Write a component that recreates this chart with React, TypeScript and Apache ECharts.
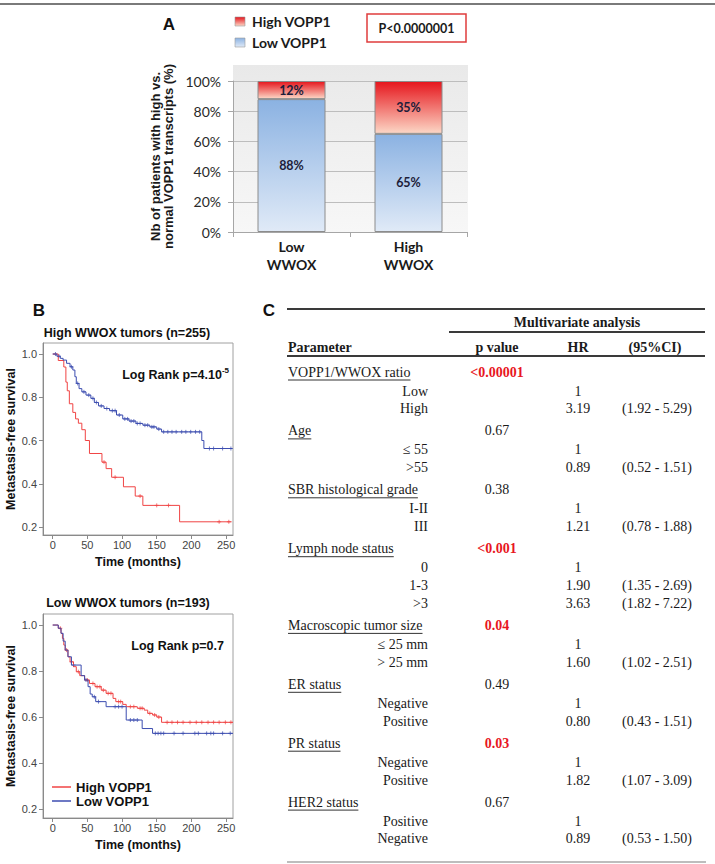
import React, { useEffect, useRef } from 'react';
import * as echarts from 'echarts';

// ---------- Panel A data ----------
const barCategories = ['Low\nWWOX', 'High\nWWOX'];
const lowVopp1Pct = [88, 65];
const highVopp1Pct = [12, 35];
const barYTicksInterval = 20;
const panelAPValue = 'P<0.0000001';

// ---------- Panel B data (Kaplan-Meier steps: [time, survival]) ----------
const kmTimeTicks = [0, 50, 100, 150, 200, 250];
const kmSurvTicks = [0.2, 0.4, 0.6, 0.8, 1.0];

const highWwoxHighVopp1: [number, number][] = [
  [0, 1.0], [8, 0.97], [16, 0.94], [19, 0.87], [21, 0.83], [24, 0.77], [29, 0.73], [33, 0.7],
  [37, 0.68], [42, 0.65], [47, 0.6], [53, 0.54], [71, 0.5], [77, 0.47], [85, 0.43], [102, 0.386],
  [119, 0.343], [130, 0.3], [183, 0.224], [258, 0.224],
];
const highWwoxHighVopp1Censored = [74, 90, 126, 150, 167, 240, 254];

const highWwoxLowVopp1: [number, number][] = [
  [0, 1.0], [6, 0.99], [11, 0.98], [15, 0.972], [20, 0.957], [25, 0.941], [29, 0.926], [32, 0.895],
  [34, 0.864], [38, 0.84], [42, 0.825], [48, 0.81], [55, 0.795], [60, 0.776], [66, 0.76], [74, 0.748],
  [82, 0.738], [92, 0.718], [101, 0.7], [110, 0.69], [120, 0.679], [130, 0.671], [140, 0.663],
  [150, 0.653], [157, 0.64], [215, 0.6], [218, 0.563], [259, 0.563],
];
const highWwoxLowVopp1Censored = [
  4, 9, 27, 36, 45, 52, 58, 63, 70, 78, 86, 90, 96, 104, 108, 113, 117, 122, 126, 133, 137, 143,
  146, 153, 160, 166, 172, 178, 186, 192, 199, 206, 212, 226, 232, 245, 257,
];

const lowWwoxHighVopp1: [number, number][] = [
  [0, 1.0], [8, 0.986], [12, 0.964], [14, 0.942], [16, 0.913], [18, 0.891], [22, 0.862], [25, 0.84],
  [30, 0.819], [34, 0.797], [39, 0.78], [46, 0.761], [53, 0.746], [61, 0.732], [70, 0.717], [77, 0.703],
  [87, 0.681], [91, 0.667], [101, 0.655], [106, 0.645], [122, 0.638], [132, 0.63], [137, 0.616],
  [144, 0.609], [150, 0.6], [157, 0.577], [260, 0.577],
];
const lowWwoxHighVopp1Censored = [
  11, 20, 27, 37, 50, 58, 64, 68, 73, 80, 84, 95, 98, 112, 117, 126, 129, 140, 147, 153, 165, 172,
  180, 188, 198, 207, 215, 224, 232, 240, 249, 257,
];

const lowWwoxLowVopp1: [number, number][] = [
  [0, 1.0], [8, 0.986], [12, 0.964], [15, 0.93], [18, 0.891], [22, 0.862], [27, 0.826], [41, 0.78],
  [46, 0.761], [51, 0.732], [54, 0.7], [57, 0.688], [62, 0.667], [77, 0.645], [106, 0.587],
  [129, 0.55], [144, 0.529], [260, 0.529],
];
const lowWwoxLowVopp1Censored = [
  30, 48, 60, 66, 90, 95, 100, 112, 117, 122, 148, 152, 156, 160, 175, 188, 205, 210, 222, 228, 232,
  245, 256,
];

// ---------- Panel C data ----------
const tableGroups = [
  'VOPP1/WWOX ratio', 'Age', 'SBR histological grade', 'Lymph node status',
  'Macroscopic tumor size', 'ER status', 'PR status', 'HER2 status',
];
const tablePValues = ['<0.00001', '0.67', '0.38', '<0.001', '0.04', '0.49', '0.03', '0.67'];
const tablePSignificant = [true, false, false, true, true, false, true, false];
const tableLevels = [
  ['Low', 'High'], ['≤ 55', '>55'], ['I-II', 'III'], ['0', '1-3', '>3'],
  ['≤ 25 mm', '> 25 mm'], ['Negative', 'Positive'], ['Negative', 'Positive'], ['Positive', 'Negative'],
];
const tableHR = [
  ['1', '3.19'], ['1', '0.89'], ['1', '1.21'], ['1', '1.90', '3.63'],
  ['1', '1.60'], ['1', '0.80'], ['1', '1.82'], ['1', '0.89'],
];
const tableCI = [
  ['', '(1.92 - 5.29)'], ['', '(0.52 - 1.51)'], ['', '(0.78 - 1.88)'], ['', '(1.35 - 2.69)', '(1.82 - 7.22)'],
  ['', '(1.02 - 2.51)'], ['', '(0.43 - 1.51)'], ['', '(1.07 - 3.09)'], ['', '(0.53 - 1.50)'],
];

// ---------- helpers ----------
const SANS = '"Liberation Sans", Arial, sans-serif';
const SERIF = '"Liberation Serif", "Times New Roman", serif';
const LATO = 'Lato, "Open Sans", sans-serif';

let measureCtx: CanvasRenderingContext2D | null = null;
function textWidth(text: string, font: string): number {
  if (!measureCtx) measureCtx = document.createElement('canvas').getContext('2d');
  if (!measureCtx) return text.length * 7;
  measureCtx.font = font;
  return measureCtx.measureText(text).width;
}

function survivalAt(steps: [number, number][], t: number): number {
  let s = steps[0][1];
  for (const [ti, si] of steps) {
    if (ti <= t) s = si;
    else break;
  }
  return s;
}

function txt(text: string, x: number, y: number, font: string, fill: string, align = 'left', extra: any = {}) {
  return {
    type: 'text',
    x,
    y,
    ...extra,
    style: {
      text,
      font,
      fill,
      textAlign: align,
      align,
      textVerticalAlign: 'middle',
      verticalAlign: 'middle',
    },
  };
}

function hline(x1: number, x2: number, y: number, stroke: string, lineWidth: number) {
  return { type: 'line', shape: { x1, y1: y, x2, y2: y }, style: { stroke, lineWidth } };
}

const vGrad = (top: string, bottom: string) =>
  new echarts.graphic.LinearGradient(0, 0, 0, 1, [
    { offset: 0, color: top },
    { offset: 1, color: bottom },
  ]);

const RED_TOP = '#e6151c';
const RED_BOTTOM = '#fcd7c6';
const BLUE_TOP = '#8bb2e2';
const BLUE_BOTTOM = '#e0eaf7';
const KM_RED = '#f04444';
const KM_BLUE = '#3c4db0';

function buildTable(): any[] {
  const els: any[] = [];
  const font = `14px ${SERIF}`;
  const bold = `bold 14px ${SERIF}`;
  const ink = '#1a1a1a';
  const col = { label: 288, level: 428, p: 497, hr: 578, ci: 657 };
  els.push(hline(287, 705, 309, '#3a3a3a', 2));
  els.push(txt('Multivariate analysis', 577, 322, bold, ink, 'center'));
  els.push(hline(449, 705, 332, '#3a3a3a', 2));
  els.push(txt('Parameter', col.label, 347, bold, ink));
  els.push(txt('p value', col.p, 347, bold, ink, 'center'));
  els.push(txt('HR', col.hr, 347, bold, ink, 'center'));
  els.push(txt('(95%CI)', 655, 347, bold, ink, 'center'));
  els.push(hline(287, 705, 356, '#3a3a3a', 2));

  let y = 372;
  tableGroups.forEach((g, gi) => {
    els.push(txt(g, col.label, y, font, ink));
    const w = textWidth(g, font);
    els.push(hline(col.label, col.label + w, y + 8, '#333', 1));
    const sig = tablePSignificant[gi];
    els.push(
      txt(tablePValues[gi], col.p, y, sig ? bold : font, sig ? '#e8161e' : ink, 'center'),
    );
    y += 19;
    tableLevels[gi].forEach((lv, li) => {
      if (li > 0) y += 17.8;
      els.push(txt(lv, col.level, y, font, ink, 'right'));
      els.push(txt(tableHR[gi][li], col.hr, y, font, ink, 'center'));
      if (tableCI[gi][li]) els.push(txt(tableCI[gi][li], col.ci, y, font, ink, 'center'));
    });
    y += 22.1;
  });
  els.push(hline(287, 706, 862, '#bdbdbd', 2));
  return els;
}

function buildGraphic(): any[] {
  const els: any[] = [];
  // figure top border
  els.push(hline(0, 715, 4, '#7a7a7a', 2));
  // Panel A background
  els.push({
    type: 'rect',
    z: -10,
    shape: { x: 233, y: 65, width: 235, height: 167 },
    style: { fill: vGrad('#e9e9e9', '#f7f7f7') },
  });
  els.push(txt('A', 169, 24, `bold 17px ${SANS}`, '#111', 'center'));
  // Panel A legend
  els.push({
    type: 'rect',
    shape: { x: 235, y: 17, width: 10, height: 9 },
    style: { fill: vGrad(RED_TOP, RED_BOTTOM), stroke: '#9a9a9a', lineWidth: 0.6 },
  });
  els.push(txt('High VOPP1', 252, 21, `bold 14px ${LATO}`, '#1a1a1a'));
  els.push({
    type: 'rect',
    shape: { x: 235, y: 38, width: 10, height: 9 },
    style: { fill: vGrad(BLUE_TOP, BLUE_BOTTOM), stroke: '#9a9a9a', lineWidth: 0.6 },
  });
  els.push(txt('Low VOPP1', 252, 42, `bold 14px ${LATO}`, '#1a1a1a'));
  // P box
  els.push({
    type: 'rect',
    shape: { x: 367, y: 14, width: 99, height: 28 },
    style: { fill: '#fff', stroke: '#e03c3c', lineWidth: 1.5 },
  });
  els.push(txt(panelAPValue, 416.5, 28, `bold 12.5px ${LATO}`, '#1a1a1a', 'center'));

  // Panel B
  els.push(txt('B', 39, 310, `bold 17px ${SANS}`, '#111', 'center'));
  els.push(txt('C', 269, 310, `bold 17px ${SANS}`, '#111', 'center'));
  els.push(txt('High WWOX tumors (n=255)', 127, 333, `bold 12.5px ${SANS}`, '#111', 'center'));
  els.push(txt('Low WWOX tumors (n=193)', 128, 603, `bold 12.5px ${SANS}`, '#111', 'center'));
  const supFont = `bold 8px ${SANS}`;
  const supW = textWidth('-5', supFont);
  els.push(txt('Log Rank p=4.10', 229 - supW, 375, `bold 12.5px ${SANS}`, '#111', 'right'));
  els.push(txt('-5', 229 - supW, 370, supFont, '#111', 'left'));
  els.push(txt('Log Rank p=0.7', 224, 646, `bold 12.5px ${SANS}`, '#111', 'right'));
  // KM legend
  els.push(hline(52, 71, 787, KM_RED, 1.5));
  els.push(txt('High VOPP1', 76, 787, `bold 13px ${SANS}`, '#111'));
  els.push(hline(52, 71, 801, KM_BLUE, 1.5));
  els.push(txt('Low VOPP1', 76, 801, `bold 13px ${SANS}`, '#111'));

  return els.concat(buildTable());
}

function kmXAxis(gridIndex: number, nameGap: number) {
  return {
    gridIndex,
    type: 'value',
    min: -14,
    max: 260,
    axisLine: { show: true, onZero: false, lineStyle: { color: '#8a8a8a' } },
    axisTick: { show: true, length: 4, customValues: kmTimeTicks, lineStyle: { color: '#8a8a8a' } },
    axisLabel: { customValues: kmTimeTicks, fontSize: 11, color: '#444', margin: 4, fontFamily: SANS },
    splitLine: { show: false },
    name: 'Time (months)',
    nameLocation: 'middle',
    nameGap,
    nameTextStyle: { fontWeight: 'bold', fontSize: 12.5, color: '#111', fontFamily: SANS },
  };
}

function kmYAxis(gridIndex: number, min: number, max: number) {
  return {
    gridIndex,
    type: 'value',
    min,
    max,
    axisLine: { show: true, onZero: false, lineStyle: { color: '#8a8a8a' } },
    axisTick: { show: true, length: 4, customValues: kmSurvTicks, lineStyle: { color: '#8a8a8a' } },
    axisLabel: {
      customValues: kmSurvTicks,
      fontSize: 11,
      color: '#444',
      margin: 6,
      fontFamily: SANS,
      formatter: (v: number) => v.toFixed(1),
    },
    splitLine: { show: false },
    name: 'Metastasis-free survival',
    nameLocation: 'middle',
    nameRotate: 90,
    nameGap: 23,
    nameTextStyle: { fontWeight: 'bold', fontSize: 12.5, color: '#111', fontFamily: SANS },
  };
}

function kmLine(name: string, data: [number, number][], color: string, axis: number) {
  return {
    type: 'line',
    name,
    xAxisIndex: axis,
    yAxisIndex: axis,
    step: 'end',
    data,
    showSymbol: false,
    silent: true,
    lineStyle: { color, width: 1 },
    itemStyle: { color },
  };
}

function kmCensor(name: string, steps: [number, number][], times: number[], color: string, axis: number) {
  return {
    type: 'scatter',
    name,
    xAxisIndex: axis,
    yAxisIndex: axis,
    data: times.map((t) => [t, survivalAt(steps, t)]),
    symbol: 'path://M2,0L2,4M0,2L4,2',
    symbolSize: 4,
    silent: true,
    itemStyle: { color: 'transparent', borderColor: color, borderWidth: 0.9 },
  };
}

function buildOption(): any {
  const barLabel = {
    show: true,
    position: 'inside',
    formatter: '{c}%',
    fontFamily: LATO,
    fontWeight: 'bold',
    fontSize: 12.5,
    color: '#1d1d3a',
  };
  return {
    animation: false,
    backgroundColor: '#fff',
    textStyle: { fontFamily: SANS },
    grid: [
      { left: 233, top: 81, width: 234, height: 151 },
      { left: 43, top: 343, width: 190, height: 192, show: true, borderColor: '#a0a0a0', borderWidth: 1 },
      { left: 43, top: 614, width: 190, height: 204, show: true, borderColor: '#a0a0a0', borderWidth: 1 },
    ],
    xAxis: [
      {
        gridIndex: 0,
        type: 'category',
        data: barCategories,
        axisLine: { show: true, lineStyle: { color: '#a6a6a6' } },
        axisTick: { show: true, length: 5, lineStyle: { color: '#a6a6a6' } },
        axisLabel: {
          fontFamily: LATO,
          fontWeight: 'bold',
          fontSize: 14,
          color: '#1a1a1a',
          lineHeight: 18,
          margin: 5,
        },
      },
      kmXAxis(1, 20),
      kmXAxis(2, 20),
    ],
    yAxis: [
      {
        gridIndex: 0,
        type: 'value',
        min: 0,
        max: 100,
        interval: barYTicksInterval,
        axisLine: { show: true, lineStyle: { color: '#a6a6a6' } },
        axisTick: { show: true, length: 5, lineStyle: { color: '#a6a6a6' } },
        axisLabel: { formatter: '{value}%', fontFamily: LATO, fontSize: 14, color: '#2a2a2a', margin: 12 },
        splitLine: { show: true, lineStyle: { color: '#bdbdbd', width: 1 } },
        name: 'Nb of patients with high vs.\nnormal VOPP1 transcripts (%)',
        nameLocation: 'middle',
        nameRotate: 90,
        nameGap: 58,
        nameTextStyle: { fontWeight: 'bold', fontSize: 13, lineHeight: 13, color: '#1a1a1a', fontFamily: SANS },
      },
      kmYAxis(1, 0.163, 1.051),
      kmYAxis(2, 0.161, 1.048),
    ],
    series: [
      {
        type: 'bar',
        name: 'Low VOPP1',
        stack: 'pct',
        xAxisIndex: 0,
        yAxisIndex: 0,
        data: lowVopp1Pct,
        barWidth: 68,
        itemStyle: { color: vGrad(BLUE_TOP, BLUE_BOTTOM), borderColor: '#8c8c8c', borderWidth: 1 },
        label: barLabel,
      },
      {
        type: 'bar',
        name: 'High VOPP1',
        stack: 'pct',
        xAxisIndex: 0,
        yAxisIndex: 0,
        data: highVopp1Pct,
        barWidth: 68,
        itemStyle: { color: vGrad(RED_TOP, RED_BOTTOM), borderColor: '#8c8c8c', borderWidth: 1 },
        label: barLabel,
      },
      kmLine('High VOPP1 (high WWOX)', highWwoxHighVopp1, KM_RED, 1),
      kmLine('Low VOPP1 (high WWOX)', highWwoxLowVopp1, KM_BLUE, 1),
      kmCensor('High VOPP1 censored (high WWOX)', highWwoxHighVopp1, highWwoxHighVopp1Censored, KM_RED, 1),
      kmCensor('Low VOPP1 censored (high WWOX)', highWwoxLowVopp1, highWwoxLowVopp1Censored, KM_BLUE, 1),
      kmLine('High VOPP1 (low WWOX)', lowWwoxHighVopp1, KM_RED, 2),
      kmLine('Low VOPP1 (low WWOX)', lowWwoxLowVopp1, KM_BLUE, 2),
      kmCensor('High VOPP1 censored (low WWOX)', lowWwoxHighVopp1, lowWwoxHighVopp1Censored, KM_RED, 2),
      kmCensor('Low VOPP1 censored (low WWOX)', lowWwoxLowVopp1, lowWwoxLowVopp1Censored, KM_BLUE, 2),
    ],
    graphic: { elements: buildGraphic() },
  };
}

export default function App() {
  const ref = useRef<HTMLDivElement>(null);
  useEffect(() => {
    document.body.style.margin = '0';
    if (!ref.current) return;
    const chart = echarts.init(ref.current, null, { renderer: 'svg' });
    chart.setOption(buildOption());
    return () => {
      chart.dispose();
    };
  }, []);
  return <div ref={ref} style={{ width: 715, height: 864, background: '#fff' }} />;
}
